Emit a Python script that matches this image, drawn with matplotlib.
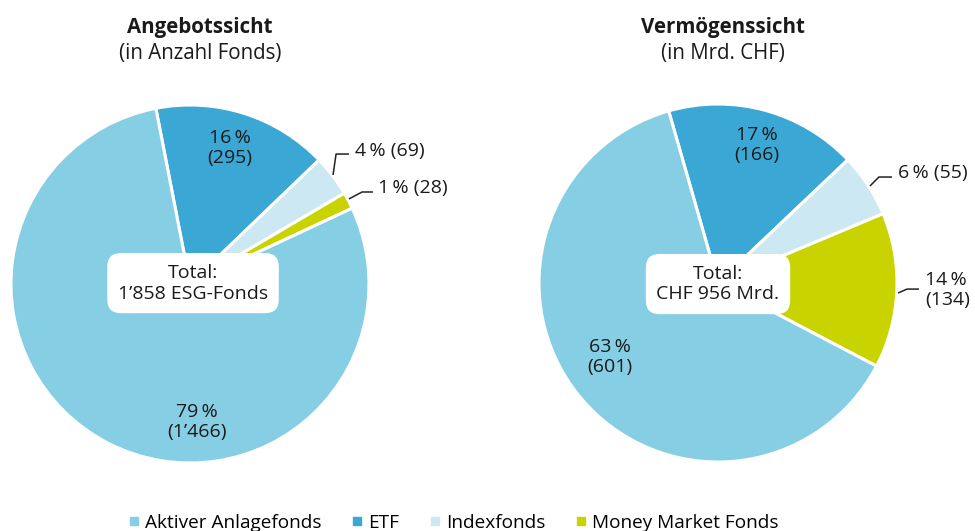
import matplotlib
matplotlib.use("Agg")
import matplotlib.pyplot as plt
from matplotlib.lines import Line2D

plt.rcParams['font.family'] = ['Open Sans', 'DejaVu Sans']

categories = ["Aktiver Anlagefonds", "ETF", "Indexfonds", "Money Market Fonds"]
colors = ["#86cee4", "#3aa7d4", "#cbe8f3", "#c8d300"]

left_values = [1466, 295, 69, 28]
left_pct = ["79\u2009%", "16\u2009%", "4\u2009%", "1\u2009%"]
left_counts = ["(1\u2019466)", "(295)", "(69)", "(28)"]
right_values = [601, 166, 55, 134]
right_pct = ["63\u2009%", "17\u2009%", "6\u2009%", "14\u2009%"]
right_counts = ["(601)", "(166)", "(55)", "(134)"]

titles = ["Angebotssicht", "Vermögenssicht"]
subtitles = ["(in Anzahl Fonds)", "(in Mrd. CHF)"]
totals = ["Total:\n1\u2019858 ESG-Fonds", "Total:\nCHF 956 Mrd."]

W, H = 975, 531
fig = plt.figure(figsize=(W / 100, H / 100), dpi=100)

FS = 14.0
FS_T = 14.8
FS_L = 13.7
TXT = "#1a1a1a"


def make_axes(cx, cy, r):
    return fig.add_axes([(cx - r) / W, (H - cy - r) / H, 2 * r / W, 2 * r / H])


def draw_pie(ax, values, startangle):
    # order: ETF, Index, MMF, Aktiver clockwise from startangle
    order = [1, 2, 3, 0]
    vals = [values[i] for i in order]
    cols = [colors[i] for i in order]
    ax.pie(vals, colors=cols, startangle=startangle, counterclock=False, radius=1,
           wedgeprops=dict(edgecolor="white", linewidth=2.2))
    ax.set_xlim(-1, 1)
    ax.set_ylim(-1, 1)
    ax.set_aspect("auto")
    ax.axis("off")


def leader(ax, pts, text, tx, ty, ha="left"):
    xs = [p[0] for p in pts]
    ys = [p[1] for p in pts]
    ax.plot(xs, ys, color="#222222", lw=1.1, clip_on=False, solid_capstyle="butt")
    ax.text(tx, ty, text, ha=ha, va="center", fontsize=FS, color=TXT,
            linespacing=1.2)


# Left pie
axL = make_axes(190, 284, 179)
draw_pie(axL, left_values, 101)
axL.text(0.223, 0.760, f"{left_pct[1]}\n{left_counts[1]}", ha="center", va="center",
         fontsize=FS, linespacing=1.2, color=TXT)
axL.text(0.039, -0.771, f"{left_pct[0]}\n{left_counts[0]}", ha="center", va="center",
         fontsize=FS, linespacing=1.2, color=TXT)
leader(axL, [(0.799, 0.609), (0.816, 0.726), (0.888, 0.726)],
       f"{left_pct[2]} {left_counts[2]}", 0.922, 0.745)
leader(axL, [(0.888, 0.475), (0.961, 0.514), (1.022, 0.514)],
       f"{left_pct[3]} {left_counts[3]}", 1.050, 0.536)
axL.text(0.017, 0.005, totals[0], ha="center", va="center", fontsize=FS,
         linespacing=1.2, color=TXT,
         bbox=dict(boxstyle="round,pad=0.55,rounding_size=0.7", fc="white", ec="none"))

# Right pie
axR = make_axes(718, 283, 179)
draw_pie(axR, right_values, 106)
axR.text(0.218, 0.771, f"{right_pct[1]}\n{right_counts[1]}", ha="center", va="center",
         fontsize=FS, linespacing=1.2, color=TXT)
axR.text(-0.603, -0.413, f"{right_pct[0]}\n{right_counts[0]}", ha="center", va="center",
         fontsize=FS, linespacing=1.2, color=TXT)
leader(axR, [(0.849, 0.542), (0.899, 0.592), (0.972, 0.592)],
       f"{right_pct[2]} {right_counts[2]}", 1.006, 0.615)
leader(axR, [(1.006, -0.056), (1.056, -0.034), (1.123, -0.034)],
       f"{right_pct[3]}\n{right_counts[3]}", 1.156, -0.039)
axR.text(0.0, -0.006, totals[1], ha="center", va="center", fontsize=FS,
         linespacing=1.2, color=TXT,
         bbox=dict(boxstyle="round,pad=0.55,rounding_size=0.7", fc="white", ec="none"))

# Titles
for x, t, s in [(200, titles[0], subtitles[0]), (723, titles[1], subtitles[1])]:
    fig.text(x / W, 1 - 27 / H, t, ha="center", va="center", fontsize=FS_T,
             fontweight="bold", color=TXT)
    fig.text(x / W, 1 - 53 / H, s, ha="center", va="center", fontsize=FS_T,
             color=TXT)

# Legend
handles = [Line2D([0], [0], marker="s", linestyle="none", markersize=5.5,
                  markerfacecolor=c, markeredgecolor=c) for c in colors]
fig.legend(handles, categories, loc="center", ncol=4, frameon=False,
           bbox_to_anchor=(454 / W, 1 - 523 / H), fontsize=FS_L,
           handlelength=0.5, handletextpad=0.35, columnspacing=1.6,
           borderpad=0.0, borderaxespad=0.0)

fig.savefig("out.png", dpi=100)
